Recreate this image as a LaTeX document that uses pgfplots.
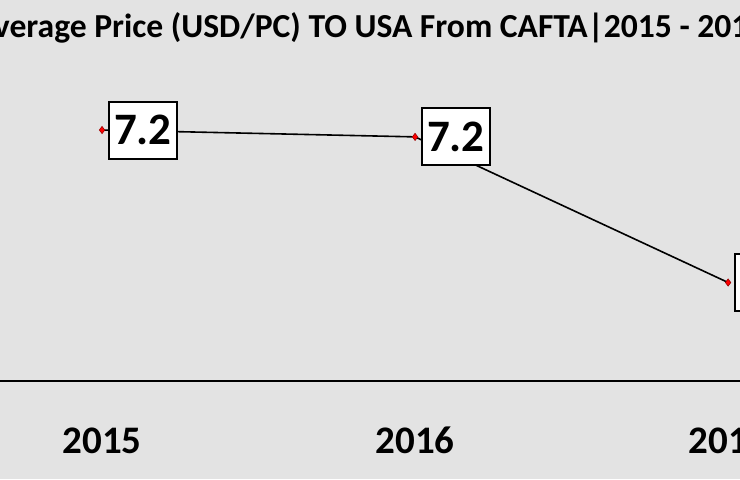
\documentclass[border=0pt]{standalone}
\usepackage{fontspec}
\setmainfont{Carlito}
\usepackage{pgfplots}
\pgfplotsset{compat=1.18}
\begin{document}
\begin{tikzpicture}
\path[use as bounding box, clip] (0,0) rectangle (370pt,239.5pt);
\fill[black!11] (0,0) rectangle (370pt,239.5pt);
\begin{axis}[
  at={(0pt,49pt)}, anchor=south west,
  scale only axis, width=370pt, height=190.5pt,
  xmin=2014.674, xmax=2017.038,
  ymin=5.212, ymax=8.26,
  clip=false,
  axis x line=bottom, axis y line=none,
  x axis line style={-, line width=1.3pt},
  xtick={2015,2016,2017},
  xticklabels={2015,2016,2017},
  major tick length=0pt,
  typeset ticklabels with strut,
  xticklabel style={font=\bfseries\fontsize{19.5}{19.5}\selectfont, yshift=-19pt},
  title={Average Price (USD/PC) TO USA From CAFTA|2015 - 2017},
  title style={at={(0.5,1)}, anchor=north, yshift=-8.5pt, font=\bfseries\fontsize{16.8}{16.8}\selectfont},
  /pgf/number format/assume math mode=true,
  nodes near coords={\pgfmathprintnumber[fixed,precision=1,fixed zerofill]{\pgfplotspointmeta}},
  every node near coord/.append style={anchor=west, draw=black, line width=1pt, fill=white,
    inner xsep=2.5pt, minimum height=28.5pt, xshift=3pt, font=\bfseries\fontsize{22.5}{22.5}\selectfont},
]
\addplot[black, line width=0.8pt, mark=diamond*, mark size=1.8pt,
  mark options={fill=red, draw=red!60!black, line width=0.3pt}]
  coordinates {(2015,7.22) (2016,7.165) (2017,6.0)};
\end{axis}
\end{tikzpicture}
\end{document}
